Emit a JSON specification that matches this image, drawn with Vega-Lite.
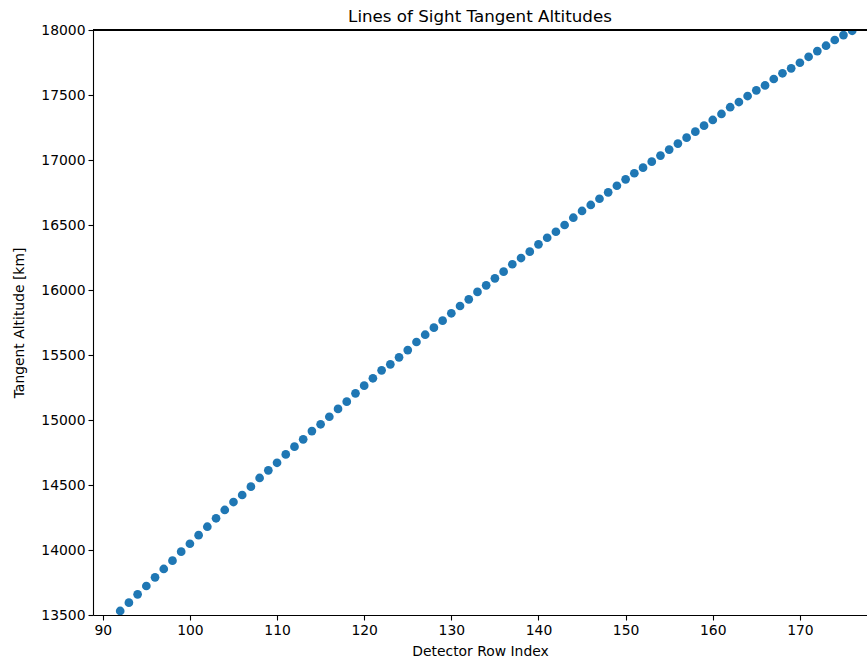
{
  "$schema": "https://vega.github.io/schema/vega-lite/v6.json",
  "width": 774,
  "height": 585,
  "autosize": {"type": "none"},
  "padding": {"left": 93, "top": 30, "right": 0, "bottom": 48},
  "background": "white",
  "title": {
    "text": "Lines of Sight Tangent Altitudes",
    "font": "DejaVu Sans",
    "fontSize": 16.7,
    "fontWeight": "normal",
    "color": "#000000",
    "anchor": "middle",
    "offset": -3
  },
  "config": {
    "view": {"stroke": null},
    "axis": {
      "grid": false,
      "labelFont": "DejaVu Sans",
      "labelFontSize": 13.9,
      "labelColor": "#000000",
      "titleFont": "DejaVu Sans",
      "titleFontSize": 13.9,
      "titleFontWeight": "normal",
      "titleColor": "#000000",
      "domainColor": "#000000",
      "domainWidth": 1.1,
      "tickColor": "#000000",
      "tickWidth": 1.1,
      "tickSize": 5,
      "labelPadding": 3,
      "labelFlush": false,
      "labelOverlap": false
    }
  },
  "data": {
    "values": [
      {"row": 92, "alt": 13531}, {"row": 93, "alt": 13595}, {"row": 94, "alt": 13659},
      {"row": 95, "alt": 13723}, {"row": 96, "alt": 13790}, {"row": 97, "alt": 13854},
      {"row": 98, "alt": 13918}, {"row": 99, "alt": 13987}, {"row": 100, "alt": 14048},
      {"row": 101, "alt": 14114}, {"row": 102, "alt": 14179}, {"row": 103, "alt": 14244},
      {"row": 104, "alt": 14308}, {"row": 105, "alt": 14369}, {"row": 106, "alt": 14423},
      {"row": 107, "alt": 14487}, {"row": 108, "alt": 14554}, {"row": 109, "alt": 14613},
      {"row": 110, "alt": 14671}, {"row": 111, "alt": 14735}, {"row": 112, "alt": 14795},
      {"row": 113, "alt": 14851}, {"row": 114, "alt": 14915}, {"row": 115, "alt": 14967},
      {"row": 116, "alt": 15025}, {"row": 117, "alt": 15085}, {"row": 118, "alt": 15141},
      {"row": 119, "alt": 15205}, {"row": 120, "alt": 15264}, {"row": 121, "alt": 15321},
      {"row": 122, "alt": 15382}, {"row": 123, "alt": 15428}, {"row": 124, "alt": 15482},
      {"row": 125, "alt": 15538}, {"row": 126, "alt": 15600}, {"row": 127, "alt": 15656},
      {"row": 128, "alt": 15710}, {"row": 129, "alt": 15764}, {"row": 130, "alt": 15821},
      {"row": 131, "alt": 15877}, {"row": 132, "alt": 15928}, {"row": 133, "alt": 15985},
      {"row": 134, "alt": 16036}, {"row": 135, "alt": 16090}, {"row": 136, "alt": 16141},
      {"row": 137, "alt": 16198}, {"row": 138, "alt": 16246}, {"row": 139, "alt": 16295},
      {"row": 140, "alt": 16351}, {"row": 141, "alt": 16402}, {"row": 142, "alt": 16448},
      {"row": 143, "alt": 16500}, {"row": 144, "alt": 16556}, {"row": 145, "alt": 16608},
      {"row": 146, "alt": 16654}, {"row": 147, "alt": 16702}, {"row": 148, "alt": 16751},
      {"row": 149, "alt": 16802}, {"row": 150, "alt": 16851}, {"row": 151, "alt": 16898},
      {"row": 152, "alt": 16941}, {"row": 153, "alt": 16987}, {"row": 154, "alt": 17034},
      {"row": 155, "alt": 17080}, {"row": 156, "alt": 17126}, {"row": 157, "alt": 17172},
      {"row": 158, "alt": 17218}, {"row": 159, "alt": 17264}, {"row": 160, "alt": 17308},
      {"row": 161, "alt": 17354}, {"row": 162, "alt": 17406}, {"row": 163, "alt": 17446},
      {"row": 164, "alt": 17492}, {"row": 165, "alt": 17536}, {"row": 166, "alt": 17574},
      {"row": 167, "alt": 17623}, {"row": 168, "alt": 17667}, {"row": 169, "alt": 17705},
      {"row": 170, "alt": 17748}, {"row": 171, "alt": 17794}, {"row": 172, "alt": 17838},
      {"row": 173, "alt": 17879}, {"row": 174, "alt": 17923}, {"row": 175, "alt": 17961},
      {"row": 176, "alt": 17994}
    ]
  },
  "layer": [
    {
      "mark": {"type": "point", "filled": true, "size": 76, "color": "#1f77b4", "opacity": 1, "clip": true},
      "encoding": {
        "x": {
          "field": "row",
          "type": "quantitative",
          "scale": {"domain": [88.88, 177.7], "nice": false, "zero": false},
          "axis": {"title": "Detector Row Index", "values": [90, 100, 110, 120, 130, 140, 150, 160, 170], "titlePadding": 8}
        },
        "y": {
          "field": "alt",
          "type": "quantitative",
          "scale": {"domain": [13500, 18000], "nice": false, "zero": false},
          "axis": {
            "title": "Tangent Altitude [km]",
            "format": "d",
            "values": [13500, 14000, 14500, 15000, 15500, 16000, 16500, 17000, 17500, 18000],
            "titlePadding": 14
          }
        }
      }
    },
    {
      "mark": {"type": "rule", "color": "#000000", "strokeWidth": 1.1},
      "encoding": {"y": {"datum": 18000}}
    }
  ]
}
